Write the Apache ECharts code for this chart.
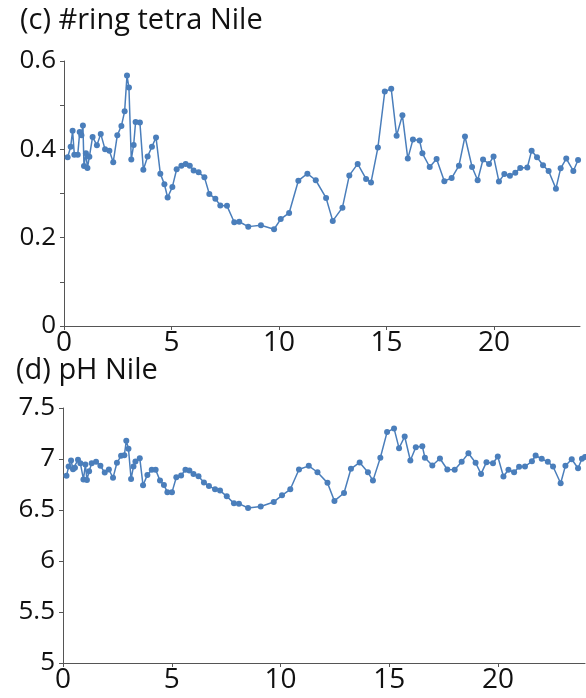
<!DOCTYPE html>
<html>
<head>
<meta charset="utf-8">
<script src="https://cdn.jsdelivr.net/npm/echarts@6/dist/echarts.min.js"></script>
<style>
  html, body { margin: 0; padding: 0; background: #fff; }
  #chart { width: 586px; height: 698px; }
</style>
</head>
<body>
<div id="chart"></div>
<script>
// (c) #ring tetra Nile  -- time, value
const tetraX = [0.17, 0.31, 0.40, 0.48, 0.64, 0.73, 0.81, 0.88, 0.93, 1.02, 1.09, 1.18, 1.33, 1.53, 1.71, 1.91,
  2.11, 2.29, 2.48, 2.67, 2.82, 2.93, 3.02, 3.13, 3.24, 3.33, 3.53, 3.69, 3.89, 4.09, 4.28, 4.48, 4.67, 4.82,
  5.04, 5.24, 5.46, 5.66, 5.85, 6.03, 6.26, 6.53, 6.76, 7.04, 7.27, 7.58, 7.92, 8.15, 8.57, 9.16, 9.77, 10.08,
  10.47, 10.90, 11.32, 11.71, 12.19, 12.50, 12.95, 13.27, 13.66, 14.05, 14.28, 14.60, 14.92, 15.22, 15.47,
  15.74, 15.99, 16.23, 16.54, 16.67, 17.01, 17.33, 17.69, 18.03, 18.37, 18.65, 18.98, 19.24, 19.49, 19.77,
  19.98, 20.23, 20.48, 20.74, 20.99, 21.22, 21.55, 21.75, 22.00, 22.28, 22.54, 22.88, 23.10, 23.36, 23.69, 23.91];
const tetraY = [0.382, 0.406, 0.442, 0.388, 0.388, 0.439, 0.432, 0.454, 0.362, 0.391, 0.358, 0.383, 0.428, 0.409, 0.435, 0.400,
  0.397, 0.371, 0.432, 0.453, 0.486, 0.567, 0.540, 0.377, 0.410, 0.462, 0.461, 0.354, 0.384, 0.406, 0.427, 0.345, 0.321, 0.291,
  0.315, 0.355, 0.363, 0.367, 0.363, 0.352, 0.348, 0.337, 0.299, 0.288, 0.273, 0.272, 0.235, 0.236, 0.225, 0.228, 0.219, 0.242,
  0.256, 0.329, 0.345, 0.330, 0.290, 0.238, 0.268, 0.341, 0.367, 0.333, 0.325, 0.404, 0.531, 0.537, 0.431,
  0.477, 0.379, 0.422, 0.420, 0.391, 0.360, 0.378, 0.328, 0.335, 0.363, 0.429, 0.360, 0.330, 0.377, 0.367,
  0.384, 0.327, 0.344, 0.340, 0.347, 0.358, 0.359, 0.397, 0.382, 0.364, 0.351, 0.311, 0.357, 0.379, 0.351, 0.376];

// (d) pH Nile
const phX = [0.16, 0.26, 0.37, 0.46, 0.55, 0.69, 0.80, 0.94, 1.03, 1.10, 1.20, 1.32, 1.52, 1.72, 1.92, 2.11, 2.30,
  2.48, 2.67, 2.82, 2.91, 3.01, 3.13, 3.24, 3.33, 3.53, 3.68, 3.88, 4.08, 4.26, 4.46, 4.64, 4.80, 5.01, 5.21, 5.43,
  5.63, 5.81, 6.00, 6.23, 6.48, 6.71, 6.99, 7.22, 7.53, 7.86, 8.09, 8.51, 9.09, 9.69, 10.07, 10.45, 10.85,
  11.30, 11.70, 12.16, 12.48, 12.92, 13.24, 13.64, 14.02, 14.25, 14.59, 14.90, 15.22, 15.45, 15.71, 15.97,
  16.22, 16.52, 16.64, 16.98, 17.33, 17.67, 18.01, 18.33, 18.64, 18.97, 19.22, 19.47, 19.77, 19.99, 20.25,
  20.48, 20.74, 20.97, 21.24, 21.56, 21.73, 22.01, 22.29, 22.53, 22.88, 23.10, 23.39, 23.68, 23.86, 24.0];
const phY = [6.835, 6.926, 6.985, 6.900, 6.913, 6.992, 6.958, 6.800, 6.946, 6.795, 6.880, 6.958, 6.972, 6.933, 6.867, 6.897, 6.815,
  6.963, 7.031, 7.037, 7.179, 7.100, 6.805, 6.926, 6.975, 7.008, 6.742, 6.844, 6.894, 6.894, 6.788, 6.746, 6.673, 6.673, 6.821, 6.838,
  6.894, 6.887, 6.854, 6.831, 6.769, 6.736, 6.703, 6.690, 6.634, 6.565, 6.562, 6.520, 6.535, 6.579, 6.644, 6.703, 6.897,
  6.933, 6.870, 6.766, 6.589, 6.667, 6.904, 6.966, 6.870, 6.788, 7.012, 7.264, 7.300, 7.106, 7.221, 6.985,
  7.116, 7.126, 7.012, 6.936, 7.005, 6.897, 6.894, 6.972, 7.057, 6.963, 6.854, 6.969, 6.958, 7.025, 6.828,
  6.894, 6.870, 6.923, 6.926, 6.978, 7.034, 7.002, 6.972, 6.926, 6.762, 6.933, 6.998, 6.909, 7.002, 7.02];

const xTicks = [0, 5, 10, 15, 20];
const tetraTicks = [0, 0.1, 0.2, 0.3, 0.4, 0.5, 0.6];
const tetraLabels = [0, 0.2, 0.4, 0.6];
const phTicks = [5, 5.5, 6, 6.5, 7, 7.5];

const blue = '#4a7ebb';
const font = '"Open Sans", sans-serif';

function pairs(xs, ys) {
  return xs.map((x, i) => [x, ys[i]]);
}

const axisLine = { lineStyle: { color: '#555', width: 1 } };

const chart = echarts.init(document.getElementById('chart'));
chart.setOption({
  animation: false,
  backgroundColor: '#fff',
  title: [
    { text: '(c) #ring tetra Nile', left: 15, top: 1,
      textStyle: { fontFamily: font, fontSize: 29, fontWeight: 'normal', color: '#111' } },
    { text: '(d) pH Nile', left: 11, top: 351,
      textStyle: { fontFamily: font, fontSize: 29, fontWeight: 'normal', color: '#111' } }
  ],
  grid: [
    { left: 64, right: 6, top: 61, height: 265, outerBoundsMode: 'none' },
    { left: 63, right: 1, top: 408, height: 255, outerBoundsMode: 'none' }
  ],
  xAxis: [0, 1].map(i => ({
    type: 'value', gridIndex: i, min: 0, max: 24,
    splitLine: { show: false },
    axisLine: axisLine,
    axisTick: { customValues: xTicks, length: 4, lineStyle: { color: '#555' } },
    axisLabel: { customValues: xTicks, fontFamily: font, fontSize: 28, color: '#111', margin: 3 }
  })),
  yAxis: [
    { type: 'value', gridIndex: 0, min: 0, max: 0.6,
      splitLine: { show: false },
      axisLine: { show: true, lineStyle: { color: '#555', width: 1 } },
      axisTick: { show: true, customValues: tetraTicks, length: 4, lineStyle: { color: '#555' } },
      axisLabel: { customValues: tetraLabels, fontFamily: font, fontSize: 26, color: '#111', margin: 8 } },
    { type: 'value', gridIndex: 1, min: 5, max: 7.5,
      splitLine: { show: false },
      axisLine: { show: true, lineStyle: { color: '#555', width: 1 } },
      axisTick: { show: true, customValues: phTicks, length: 4, lineStyle: { color: '#555' } },
      axisLabel: { customValues: phTicks, fontFamily: font, fontSize: 26, color: '#111', margin: 8 } }
  ],
  series: [
    { type: 'line', xAxisIndex: 0, yAxisIndex: 0, data: pairs(tetraX, tetraY),
      symbol: 'circle', symbolSize: 6, showAllSymbol: true,
      itemStyle: { color: blue }, lineStyle: { color: blue, width: 1.5 } },
    { type: 'line', xAxisIndex: 1, yAxisIndex: 1, data: pairs(phX, phY),
      symbol: 'circle', symbolSize: 6, showAllSymbol: true,
      itemStyle: { color: blue }, lineStyle: { color: blue, width: 1.5 } }
  ]
});
</script>
</body>
</html>
